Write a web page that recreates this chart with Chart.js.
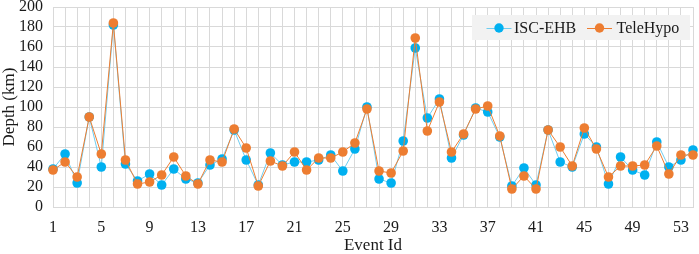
<!DOCTYPE html>
<html>
<head>
<meta charset="utf-8">
<script src="https://cdn.jsdelivr.net/npm/chart.js@4/dist/chart.umd.min.js"></script>
<style>
  html, body { margin: 0; padding: 0; background: #ffffff; }
  #wrap { width: 699px; height: 254px; position: relative; }
</style>
</head>
<body>
<div id="wrap"><canvas id="c"></canvas></div>
<script>
const eventIds = ['1','2','3','4','5','6','7','8','9','10','11','12','13','14','15','16','17','18','19','20','21','22','23','24','25','26','27','28','29','30','31','32','33','34','35','36','37','38','39','40','41','42','43','44','45','46','47','48','49','50','51','52','53','54'];
const xTickLabels = ['1','5','9','13','17','21','25','29','33','37','41','45','49','53'];
const iscEhb = [38,53,24,90,40,182,43,26,33,22,38,28,24,42,48,77,47,22,54,42,45,45,47,52,36,58,100,28,24,66,159,89,108,49,72,99,95,70,21,39,22,77,45,40,73,60,23,50,37,32,65,40,47,57];
const teleHypo = [37,45,30,90,53,184,47,23,25,32,50,31,23,47,45,78,59,21,46,41,55,37,49,49,55,64,98,36,34,56,169,76,105,55,73,98,101,71,18,31,18,77,60,41,79,58,30,41,41,42,61,33,52,52];
const seriesNames = ['ISC-EHB', 'TeleHypo'];

const SERIF = '"Liberation Serif", "Times New Roman", serif';
const BLUE = '#00B0F0', BLUE_LINE = '#6FCDF0', ORANGE = '#ED7D31';
const GRID = '#D9D9D9';
const TEXT = '#1a1a1a';

const legendPlugin = {
  id: 'boxLegend',
  afterDraw(chart) {
    const ctx = chart.ctx;
    ctx.save();
    ctx.fillStyle = '#F2F2F2';
    ctx.fillRect(472, 15, 218, 25);
    const items = [
      {name: seriesNames[0], x0: 486.5, color: BLUE, line: BLUE_LINE, tx: 514},
      {name: seriesNames[1], x0: 587, color: ORANGE, line: ORANGE, tx: 616.5}
    ];
    const y = 28;
    items.forEach(it => {
      ctx.strokeStyle = it.line;
      ctx.lineWidth = 1;
      ctx.beginPath();
      ctx.moveTo(it.x0, y + 0.5);
      ctx.lineTo(it.x0 + 25, y + 0.5);
      ctx.stroke();
      ctx.fillStyle = it.color;
      ctx.beginPath();
      ctx.arc(it.x0 + 12.5, y, 4.7, 0, Math.PI * 2);
      ctx.fill();
      ctx.fillStyle = TEXT;
      ctx.font = '16px ' + SERIF;
      ctx.textBaseline = 'middle';
      ctx.textAlign = 'left';
      ctx.fillText(it.name, it.tx, y + 1);
    });
    ctx.restore();
  }
};

new Chart(document.getElementById('c'), {
  type: 'line',
  data: {
    labels: eventIds,
    datasets: [
      {
        label: seriesNames[0], data: iscEhb, order: 2,
        borderColor: BLUE_LINE, borderWidth: 1,
        pointBackgroundColor: BLUE, pointBorderColor: BLUE, pointBorderWidth: 0,
        pointRadius: 4.8, tension: 0, clip: false
      },
      {
        label: seriesNames[1], data: teleHypo, order: 1,
        borderColor: ORANGE, borderWidth: 1,
        pointBackgroundColor: ORANGE, pointBorderColor: ORANGE, pointBorderWidth: 0,
        pointRadius: 4.8, tension: 0, clip: false
      }
    ]
  },
  options: {
    responsive: true,
    maintainAspectRatio: false,
    animation: false,
    devicePixelRatio: 1,
    layout: { padding: { top: 7, right: 6, left: 0, bottom: 0 } },
    plugins: { legend: { display: false }, tooltip: { enabled: false } },
    scales: {
      x: {
        type: 'category',
        offset: false,
        grid: { color: GRID, lineWidth: 1, drawTicks: false },
        border: { color: GRID },
        ticks: {
          autoSkip: false, maxRotation: 0, padding: 13,
          color: TEXT,
          font: { family: SERIF, size: 16, lineHeight: 1 },
          callback: function(v, i) {
            const l = this.getLabelForValue(v);
            return xTickLabels.includes(l) ? l : '';
          }
        },
        title: {
          display: true, text: 'Event Id', color: TEXT,
          font: { family: SERIF, size: 17, lineHeight: 1 },
          padding: { top: 0, bottom: 0 }
        },
        afterFit(scale) { scale.height = 47; scale.paddingLeft = 0; scale.paddingRight = 0; }
      },
      y: {
        min: 0, max: 200,
        grid: { color: GRID, lineWidth: 1, drawTicks: false },
        border: { color: GRID },
        ticks: {
          stepSize: 20, padding: 10, color: TEXT,
          font: { family: SERIF, size: 16, lineHeight: 1 }
        },
        title: {
          display: true, text: 'Depth (km)', color: TEXT,
          font: { family: SERIF, size: 17, lineHeight: 1 },
          padding: { top: 1, bottom: 0 }
        },
        afterFit(scale) { scale.width = 53; scale.paddingTop = 0; scale.paddingBottom = 0; }
      }
    }
  },
  plugins: [legendPlugin]
});
</script>
</body>
</html>
